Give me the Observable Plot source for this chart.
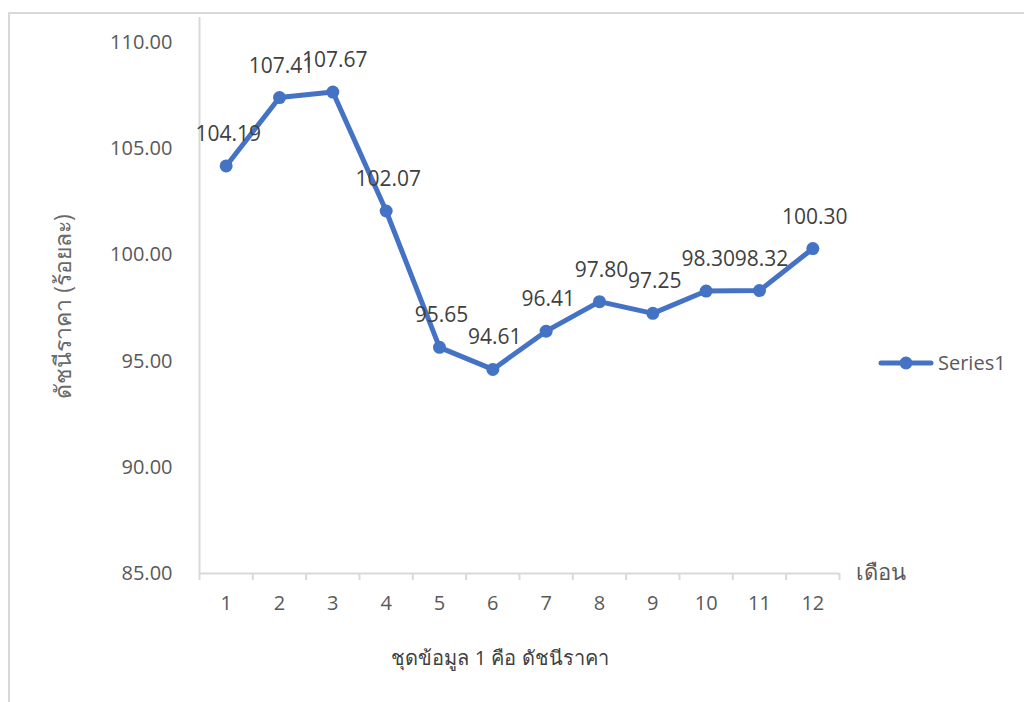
<!DOCTYPE html>
<html>
<head>
<meta charset="utf-8">
<script src="https://cdn.jsdelivr.net/npm/d3@7"></script>
<script src="https://cdn.jsdelivr.net/npm/@observablehq/plot@0.6"></script>
<style>
  html, body { margin: 0; padding: 0; background: #fff; }
  #wrap { position: relative; width: 1024px; height: 702px; overflow: hidden; }
  #frame { position: absolute; left: 8px; top: 12px; width: 1100px; height: 800px; border: 2px solid #d9d9d9; box-sizing: border-box; pointer-events: none; }
  #chart { position: absolute; left: 0; top: 0; }
  #legend { position: absolute; left: 878px; top: 349px; display: flex; align-items: center; font: 20px "Open Sans", "Noto Sans", sans-serif; color: #595959; }
  #caption { position: absolute; left: 0; width: 1000px; top: 642px; text-align: center; font: 20px "Open Sans", "Noto Sans", sans-serif; color: #404040; }
</style>
</head>
<body>
<div id="wrap">
  <div id="frame"></div>
  <div id="chart"></div>
  <div id="legend"></div>
  <div id="caption"></div>
</div>
<script>
// Monthly price index
const months = [1, 2, 3, 4, 5, 6, 7, 8, 9, 10, 11, 12];
const priceIndex = [104.19, 107.41, 107.67, 102.07, 95.65, 94.61, 96.41, 97.80, 97.25, 98.30, 98.32, 100.30];
const yTicks = [85, 90, 95, 100, 105, 110];
const seriesName = "Series1";
const yTitle = "ดัชนีราคา (ร้อยละ)";
const xTitle = "เดือน";
const captionText = "ชุดข้อมูล 1 คือ ดัชนีราคา";

const data = months.map((m, i) => ({month: m, value: priceIndex[i]}));
// category boundaries between months, for the x-axis tick marks
const bounds = [months[0] - 0.5, ...months.map(m => m + 0.5)];

const blue = "#4472C4";
const font = "'Open Sans', 'Noto Sans', sans-serif";

const chart = Plot.plot({
  width: 1024,
  height: 702,
  marginLeft: 199,
  marginRight: 185,
  marginTop: 17,
  marginBottom: 129,
  style: {fontFamily: font, fontSize: "20px", color: "#595959", background: "transparent"},
  x: {type: "linear", domain: [bounds[0], bounds[bounds.length - 1]]},
  y: {type: "linear", domain: [85, 111.18]},
  marks: [
    // axis lines
    Plot.ruleY([85], {stroke: "#d9d9d9", strokeWidth: 2}),
    Plot.ruleX([bounds[0]], {stroke: "#d9d9d9", strokeWidth: 2}),
    // boundary ticks under the x axis
    Plot.axisX(bounds, {tickSize: 7, stroke: "#d9d9d9", strokeWidth: 2, tickFormat: () => "", label: null}),
    // month labels
    Plot.axisX(months, {tickSize: 0, tickPadding: 22, fontSize: 20, fill: "#595959", label: null}),
    // y tick labels
    Plot.axisY(yTicks, {tickSize: 0, tickPadding: 27, tickFormat: d3.format(".2f"), fontSize: 20, fill: "#595959",
      label: null}),
    // rotated y title, left of the tick labels
    Plot.text([yTitle], {frameAnchor: "left", text: d => d, rotate: -90, textAnchor: "middle", lineAnchor: "middle",
      dx: -136, dy: 11, fontSize: 23, fill: "#6a6a6a"}),
    // x axis title at the right end of the axis
    Plot.text([xTitle], {frameAnchor: "bottom-right", text: d => d, textAnchor: "start", lineAnchor: "middle", dx: 16, dy: -1, fontSize: 22, fill: "#595959"}),
    // the series
    Plot.line(data, {x: "month", y: "value", stroke: blue, strokeWidth: 5, strokeLinejoin: "round", strokeLinecap: "round"}),
    Plot.dot(data, {x: "month", y: "value", fill: blue, r: 6.5}),
    Plot.text(data, {x: "month", y: "value", text: d => d3.format(".2f")(d.value), lineAnchor: "bottom", dy: -25, dx: 2, fontSize: 21, fill: "#404040"})
  ]
});
document.getElementById("chart").appendChild(chart);

// legend entry
const legend = document.getElementById("legend");
legend.innerHTML = `<svg width="56" height="24"><line x1="3" y1="12" x2="53" y2="12" stroke="${blue}" stroke-width="5" stroke-linecap="round"/><circle cx="28" cy="12" r="6.5" fill="${blue}"/></svg><span style="margin-left:4px">${seriesName}</span>`;
document.getElementById("caption").textContent = captionText;
</script>
</body>
</html>
